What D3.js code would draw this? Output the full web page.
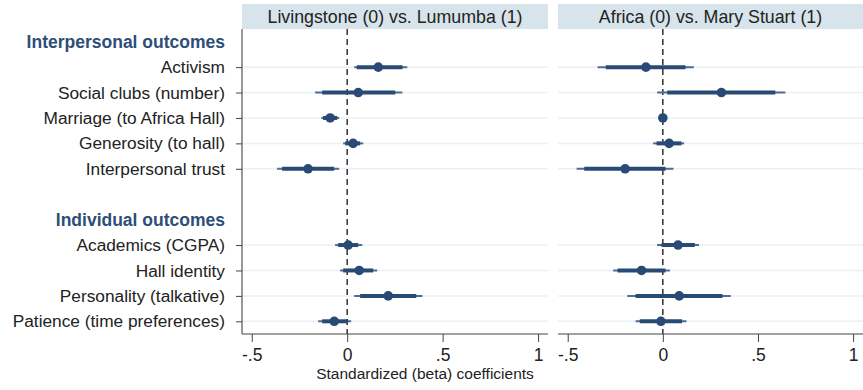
<!DOCTYPE html>
<html>
<head>
<meta charset="utf-8">
<script src="https://cdn.jsdelivr.net/npm/d3@7"></script>
<style>
  body { margin: 0; background: #fff; }
  svg { display: block; font-family: "Liberation Sans", Arial, sans-serif; }
</style>
</head>
<body>
<svg id="chart" width="863" height="390"></svg>
<script>
// 行标签（空字符串 = 空行）
const rowLabels = [
  "Interpersonal outcomes", "Activism", "Social clubs (number)", "Marriage (to Africa Hall)",
  "Generosity (to hall)", "Interpersonal trust", "",
  "Individual outcomes", "Academics (CGPA)", "Hall identity", "Personality (talkative)",
  "Patience (time preferences)"
];
const groupRows = [0, 7];
const dataRows = [1, 2, 3, 4, 5, 8, 9, 10, 11];

const panelTitles = ["Livingstone (0) vs. Lumumba (1)", "Africa (0) vs. Mary Stuart (1)"];
const xTicks = [-0.5, 0, 0.5, 1];
const xTickLabels = ["-.5", "0", ".5", "1"];

// 面板1：Livingstone vs. Lumumba
const coef1 = [0.163, 0.058, -0.089, 0.031, -0.205, 0.005, 0.063, 0.215, -0.068];
const lo95_1 = [0.037, -0.168, -0.136, -0.021, -0.367, -0.063, -0.037, 0.037, -0.152];
const hi95_1 = [0.315, 0.289, -0.042, 0.084, -0.042, 0.079, 0.157, 0.394, 0.021];
const lo90_1 = [0.05, -0.131, -0.126, -0.01, -0.341, -0.047, -0.021, 0.068, -0.131];
const hi90_1 = [0.29, 0.252, -0.052, 0.068, -0.068, 0.058, 0.136, 0.362, 0.005];

// 面板2：Africa vs. Mary Stuart
const coef2 = [-0.089, 0.308, 0.0, 0.033, -0.198, 0.08, -0.112, 0.086, -0.01];
const lo95_2 = [-0.343, -0.03, -0.012, -0.051, -0.453, -0.03, -0.261, -0.187, -0.143];
const hi95_2 = [0.163, 0.644, 0.012, 0.112, 0.056, 0.19, 0.037, 0.357, 0.124];
const lo90_2 = [-0.3, 0.023, -0.008, -0.033, -0.413, -0.007, -0.238, -0.143, -0.121];
const hi90_2 = [0.119, 0.591, 0.008, 0.098, 0.014, 0.168, 0.014, 0.313, 0.101];

const panels = [
  { title: panelTitles[0], coef: coef1, lo95: lo95_1, hi95: hi95_1, lo90: lo90_1, hi90: hi90_1, x0: 242, x1: 548 },
  { title: panelTitles[1], coef: coef2, lo95: lo95_2, hi95: hi95_2, lo90: lo90_2, hi90: hi90_2, x0: 558, x1: 863 }
];

const svg = d3.select("#chart");
const navy = "#284a75";
const plotTop = 29, plotBottom = 334;

// y比例尺：每行一个位置
const y = d3.scaleLinear().domain([-0.5, 11.5]).range([plotTop, plotBottom]);

// 左侧标签
const labels = svg.append("g");
rowLabels.forEach((lab, i) => {
  if (!lab) return;
  const isGroup = groupRows.includes(i);
  labels.append("text")
    .attr("x", 225)
    .attr("y", y(i))
    .attr("dy", "0.35em")
    .attr("text-anchor", "end")
    .style("font-size", isGroup ? "17.5px" : "17.3px")
    .style("font-weight", isGroup ? "bold" : "normal")
    .style("fill", isGroup ? "#2d4e78" : "#222")
    .text(lab);
});

panels.forEach((p, pi) => {
  const x = d3.scaleLinear().domain([-0.551, 1.052]).range([p.x0, p.x1]);
  const g = svg.append("g");

  // 标题栏
  g.append("rect")
    .attr("x", p.x0).attr("y", 4)
    .attr("width", p.x1 - p.x0).attr("height", 25)
    .attr("fill", "#d7e4eb");
  g.append("text")
    .attr("x", (p.x0 + p.x1) / 2).attr("y", 17)
    .attr("dy", "0.35em")
    .attr("text-anchor", "middle")
    .style("font-size", "17.8px")
    .style("fill", "#222")
    .text(p.title);

  // 网格线
  g.selectAll(".grid")
    .data(dataRows)
    .enter()
    .append("line")
    .attr("x1", p.x0).attr("x2", p.x1)
    .attr("y1", (d) => y(d)).attr("y2", (d) => y(d))
    .attr("stroke", "#eaf0f3")
    .attr("stroke-width", 1.5);

  // 零线（虚线）
  g.append("line")
    .attr("x1", x(0)).attr("x2", x(0))
    .attr("y1", plotTop).attr("y2", plotBottom)
    .attr("stroke", "#222")
    .attr("stroke-width", 1.4)
    .attr("stroke-dasharray", "6,4");

  // x轴
  const xAxis = d3.axisBottom(x)
    .tickValues(xTicks)
    .tickSize(8)
    .tickFormat((d, i) => xTickLabels[i]);
  const ax = g.append("g").attr("transform", `translate(0,${plotBottom})`).call(xAxis);
  ax.select(".domain").attr("stroke", "#444").attr("d", `M${p.x0},0H${p.x1}`);
  ax.selectAll(".tick line").attr("stroke", "#444");
  ax.selectAll(".tick text")
    .attr("dy", "0.9em")
    .style("font-size", "17.5px")
    .style("font-family", "Liberation Sans, Arial, sans-serif")
    .style("fill", "#222");

  // y轴（仅第一个面板）
  if (pi === 0) {
    const yAxis = d3.axisLeft(y).tickValues(dataRows).tickSize(6).tickFormat("");
    const ay = g.append("g").attr("transform", `translate(${p.x0},0)`).call(yAxis);
    ay.select(".domain").attr("stroke", "#333").attr("d", `M0,${plotTop}V${plotBottom}`);
    ay.selectAll(".tick line").attr("stroke", "#444");
  }

  // 95% 置信区间（细线）
  g.selectAll(".ci95")
    .data(dataRows)
    .enter()
    .append("line")
    .attr("x1", (d, i) => x(p.lo95[i])).attr("x2", (d, i) => x(p.hi95[i]))
    .attr("y1", (d) => y(d)).attr("y2", (d) => y(d))
    .attr("stroke", "#4d6c92")
    .attr("stroke-width", 2);

  // 90% 置信区间（粗线）
  g.selectAll(".ci90")
    .data(dataRows)
    .enter()
    .append("line")
    .attr("x1", (d, i) => x(p.lo90[i])).attr("x2", (d, i) => x(p.hi90[i]))
    .attr("y1", (d) => y(d)).attr("y2", (d) => y(d))
    .attr("stroke", navy)
    .attr("stroke-width", 4);

  // 点估计
  g.selectAll(".pt")
    .data(dataRows)
    .enter()
    .append("circle")
    .attr("cx", (d, i) => x(p.coef[i]))
    .attr("cy", (d) => y(d))
    .attr("r", 4.8)
    .attr("fill", navy);
});

// x轴标题
svg.append("text")
  .attr("x", 425).attr("y", 379)
  .attr("text-anchor", "middle")
  .style("font-size", "15.5px")
  .style("fill", "#222")
  .text("Standardized (beta) coefficients");
</script>
</body>
</html>
